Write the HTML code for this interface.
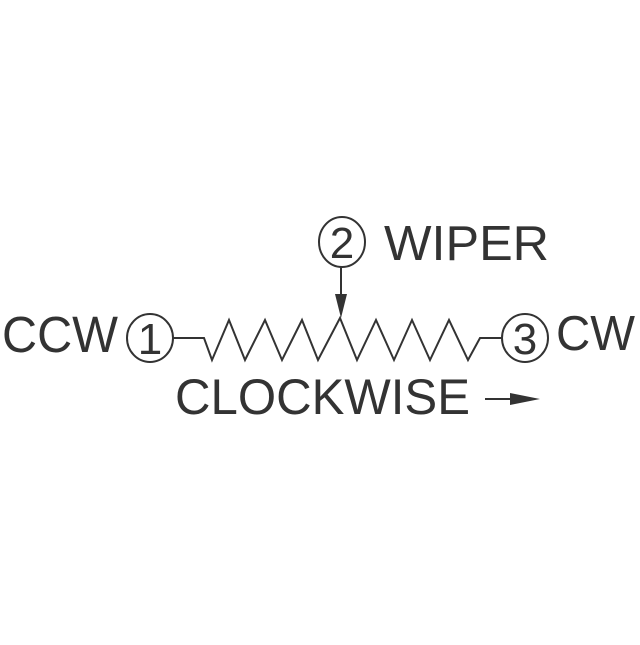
<!DOCTYPE html>
<html><head><style>body{margin:0;background:#fff}</style></head><body>
<svg width="640" height="640" xmlns="http://www.w3.org/2000/svg">
<rect width="640" height="640" fill="#fff"/>
<g font-family="Liberation Sans, sans-serif" fill="#333">
<text x="2" y="352" font-size="51" textLength="116" lengthAdjust="spacingAndGlyphs">CCW</text>
<text x="556" y="350" font-size="49" textLength="79" lengthAdjust="spacingAndGlyphs">CW</text>
<text x="384" y="260" font-size="49" textLength="165" lengthAdjust="spacingAndGlyphs">WIPER</text>
<text x="175" y="414" font-size="50" textLength="295" lengthAdjust="spacingAndGlyphs">CLOCKWISE</text>
<text x="150" y="354" font-size="44" text-anchor="middle">1</text>
<text x="342" y="258" font-size="44" text-anchor="middle">2</text>
<text x="525" y="354" font-size="44" text-anchor="middle">3</text>
</g>
<g fill="none" stroke="#333" stroke-width="2">
<ellipse cx="150" cy="338" rx="23" ry="24"/>
<ellipse cx="342" cy="242" rx="23" ry="25"/>
<ellipse cx="525" cy="338" rx="23" ry="24"/>
<polyline points="173,338 204,338 212,360 229,320 245,360 265,320 282,360 302,320 318,360 340,318 357,360 376,320 394,360 412,320 430,360 449,320 468,360 480,338 502,338"/>
<line x1="341" y1="267" x2="341" y2="296"/>
<line x1="485" y1="399" x2="512" y2="399"/>
</g>
<polygon points="335,294 347,294 341,318" fill="#333"/>
<polygon points="510,393 540,399 510,405" fill="#333"/>
</svg>
</body></html>
